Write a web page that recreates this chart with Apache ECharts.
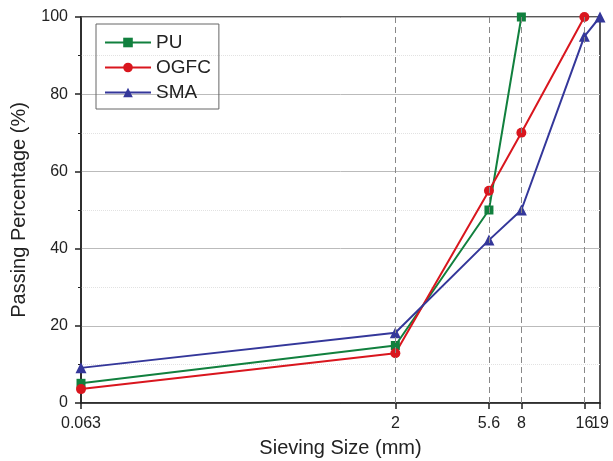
<!DOCTYPE html>
<html><head><meta charset="utf-8">
<script src="https://cdn.jsdelivr.net/npm/echarts@6/dist/echarts.min.js"></script>
<style>html,body{margin:0;padding:0;background:#fff}#c{width:613px;height:461px}</style>
</head><body><div id="c"></div>
<script>
const sizesPU = [0.063, 2, 5.6, 8];
const valuesPU = [5.1, 14.9, 50, 100];
const sizesOGFC = [0.063, 2, 5.6, 8, 16];
const valuesOGFC = [3.6, 12.9, 55, 70, 100];
const sizesSMA = [0.063, 2, 5.6, 8, 16, 19];
const valuesSMA = [9.1, 18.2, 42.2, 50, 95, 100];
const xTicks = [0.063, 2, 5.6, 8, 16, 19];
const xLabelsOnAxis = [0.063, 2, 5.6, 8, 19];
const dashedX = [2, 5.6, 8, 16];

const zip = (xs, ys) => xs.map((x, i) => [x, ys[i]]);
const font = 'Liberation Sans, Arial, sans-serif';
const chart = echarts.init(document.getElementById('c'));
chart.setOption({
  animation: false,
  backgroundColor: '#fff',
  grid: { left: 81, right: 13, top: 17, bottom: 58, outerBoundsMode: 'none', containLabel: false, show: true, borderColor: '#222', borderWidth: 1.5, backgroundColor: 'transparent' },
  legend: {
    left: 96, top: 24, orient: 'vertical',
    borderColor: '#666', borderWidth: 1, borderRadius: 0,
    padding: [9, 8, 7, 8],
    itemWidth: 46, itemHeight: 12, itemGap: 6,
    textStyle: { fontFamily: font, fontSize: 19, color: '#222' },
    data: ['PU', 'OGFC', 'SMA']
  },
  xAxis: {
    type: 'log', logBase: 10, min: 0.063, max: 19,
    name: 'Sieving Size (mm)', nameLocation: 'middle', nameGap: 35,
    nameTextStyle: { fontFamily: font, fontSize: 20, color: '#222' },
    axisLine: { show: true, onZero: false, lineStyle: { color: '#222', width: 1.5 } },
    axisTick: { show: true, inside: false, length: 6, customValues: xTicks, lineStyle: { color: '#222', width: 1.5 } },
    axisLabel: { customValues: xLabelsOnAxis, hideOverlap: false, fontFamily: font, fontSize: 16, color: '#222', margin: 13, showMinLabel: true, showMaxLabel: true },
    splitLine: { show: false },
    minorTick: { show: false }
  },
  yAxis: {
    type: 'value', min: 0, max: 100, interval: 20,
    name: 'Passing Percentage (%)', nameLocation: 'middle', nameGap: 52,
    nameTextStyle: { fontFamily: font, fontSize: 20, color: '#222' },
    axisLine: { show: true, lineStyle: { color: '#222', width: 1.5 } },
    axisTick: { show: true, length: 6, lineStyle: { color: '#222', width: 1.5 } },
    minorTick: { show: true, splitNumber: 2, length: 3, lineStyle: { color: '#222' } },
    axisLabel: { fontFamily: font, fontSize: 16, color: '#222', margin: 13 },
    splitLine: { show: true, lineStyle: { color: '#bbb', width: 1 } },
    minorSplitLine: { show: true, lineStyle: { color: '#e2e2e2', type: 'dotted', width: 1 } }
  },
  series: [
    {
      name: 'PU', type: 'line', data: zip(sizesPU, valuesPU),
      symbol: 'rect', symbolSize: 9, color: '#11803e',
      lineStyle: { width: 2 }, z: 3,
      markLine: {
        silent: true, symbol: 'none',
        label: { show: false },
        lineStyle: { color: '#888', type: [6, 4], width: 1 },
        data: dashedX.map(v => ({
          xAxis: v,
          label: v === 16
            ? { show: true, position: 'start', distance: 13, formatter: String(v), fontFamily: font, fontSize: 16, color: '#222' }
            : { show: false }
        }))
      }
    },
    {
      name: 'OGFC', type: 'line', data: zip(sizesOGFC, valuesOGFC),
      symbol: 'circle', symbolSize: 10, color: '#d9161e',
      lineStyle: { width: 2 }, z: 3
    },
    {
      name: 'SMA', type: 'line', data: zip(sizesSMA, valuesSMA),
      symbol: 'triangle', symbolSize: 11, color: '#34379a',
      lineStyle: { width: 2 }, z: 3
    }
  ]
});
</script></body></html>
